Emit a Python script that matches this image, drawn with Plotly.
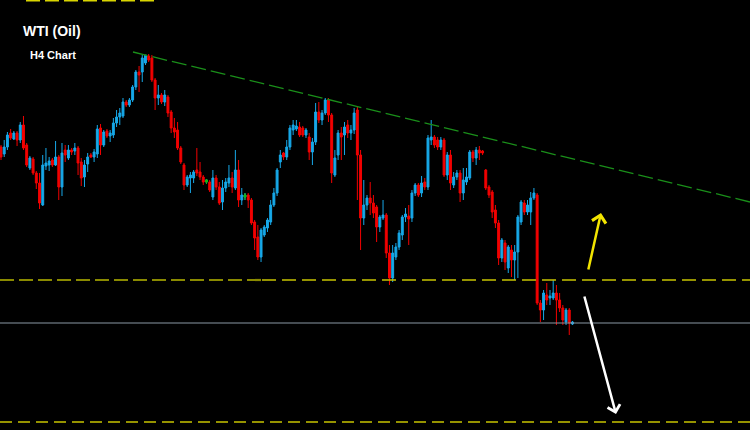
import plotly.graph_objects as go

# ---- data (price units) ----
opens = [283,276,283,297,291,297,290,305,285,262,271,257,247,225,264,265,270,265,273,243,
         280,272,280,279,282,268,253,266,275,273,276,302,285,299,294,295,307,313,314,328,
         325,330,343,358,358,367,374,372,350,332,335,328,333,318,302,300,282,265,245,252,
         252,260,258,253,248,248,233,252,243,228,242,247,252,242,260,230,233,235,230,208,
         193,173,195,202,208,225,237,268,277,273,283,300,301,303,302,295,293,278,288,318,
         310,317,330,315,255,275,297,295,305,297,300,320,275,212,225,232,227,223,203,212,
         215,177,152,173,183,195,213,214,212,237,245,237,248,243,290,293,290,283,290,255,
         275,245,253,257,237,248,252,278,272,280,279,260,243,238,220,207,172,187,162,180,
         170,178,208,227,218,218,232,235,127,120,135,132,132,137,130,122,108,120,106]
highs = [285,290,298,301,299,299,308,314,287,274,273,259,257,275,282,273,272,289,275,287,
         285,285,282,287,284,272,270,277,277,281,305,306,300,301,300,312,320,322,332,330,
         332,345,360,364,375,375,376,375,352,345,337,340,335,320,312,308,284,267,255,258,
         260,282,268,255,251,250,260,255,248,250,252,265,258,280,270,242,237,237,232,210,
         205,202,205,212,230,242,262,280,278,290,305,310,310,308,304,302,297,292,327,328,
         320,332,332,317,280,300,303,308,310,305,322,324,280,250,235,248,235,225,215,230,
         217,185,185,187,200,215,222,225,240,247,247,254,252,295,310,295,293,293,292,278,
         280,258,260,260,262,262,280,280,283,284,280,261,245,240,225,210,192,190,185,185,
         185,215,230,230,230,238,242,237,130,140,147,140,150,145,137,125,122,122,109]
lows = [270,273,280,290,290,284,287,280,263,260,255,241,221,224,260,259,263,264,230,234,
        268,270,275,275,255,244,243,258,272,268,272,275,283,292,288,292,303,305,312,323,
        323,328,340,338,348,365,368,348,320,325,326,324,313,297,292,280,266,240,243,237,
        247,254,250,245,246,238,230,240,225,220,238,243,237,240,223,225,230,222,205,180,
        170,168,193,198,205,223,234,262,270,270,280,295,299,293,293,292,270,265,285,307,
        305,315,308,247,253,270,270,275,292,290,296,230,180,205,220,215,212,188,198,210,
        172,145,148,170,180,190,208,185,208,234,233,233,240,240,285,282,280,280,253,250,
        240,242,250,228,230,245,250,268,265,270,275,240,232,212,202,165,168,160,157,153,
        150,152,205,215,215,205,230,125,108,110,125,125,130,105,118,105,105,95,105]
closes = [273,283,295,292,297,290,305,282,265,272,257,247,227,265,267,269,265,273,243,277,
          275,280,278,282,267,252,265,273,273,278,301,285,298,294,297,307,313,317,328,325,
          330,343,358,355,372,375,370,350,332,335,328,335,317,302,298,282,268,245,253,255,
          258,257,253,248,250,240,252,243,227,242,248,252,243,260,230,235,235,230,207,192,
          173,200,203,210,225,237,260,275,273,283,302,305,304,295,295,300,278,288,318,310,
          317,330,315,257,272,297,293,303,297,300,317,275,212,225,232,227,217,203,213,215,
          177,152,177,183,197,213,216,211,237,245,235,247,243,292,293,285,283,290,255,275,
          247,253,257,237,250,253,278,272,280,277,277,242,235,218,207,172,190,168,183,170,
          178,213,228,218,225,232,237,127,120,137,130,134,137,130,122,110,120,107,108]
candle_index = list(range(len(closes)))

# special (green) candles
green_idx = [64, 76]

# horizontal levels and trendline (price units)
upper_dash_level = 430
support_level = 150
current_price = 107
target_level = 8
trend_start, trend_end = 378, 228

BLUE = "#17a8e8"
RED = "#f20000"

fig = go.Figure()
fig.add_trace(go.Candlestick(
    x=candle_index, open=opens, high=highs, low=lows, close=closes,
    increasing=dict(line=dict(color=BLUE, width=1), fillcolor=BLUE),
    decreasing=dict(line=dict(color=RED, width=1), fillcolor=RED),
    whiskerwidth=0, showlegend=False, hoverinfo="skip"))
fig.add_trace(go.Candlestick(
    x=green_idx,
    open=[opens[i] for i in green_idx], high=[highs[i] for i in green_idx],
    low=[lows[i] for i in green_idx], close=[closes[i] for i in green_idx],
    increasing=dict(line=dict(color="#14b814", width=1), fillcolor="#14b814"),
    decreasing=dict(line=dict(color="#14b814", width=1), fillcolor="#14b814"),
    whiskerwidth=0, showlegend=False, hoverinfo="skip"))

shapes = [
    dict(type="line", xref="paper", yref="y", x0=26/750, x1=154/750, y0=upper_dash_level, y1=upper_dash_level,
         line=dict(color="#d8d400", width=3, dash="14px,5px")),
    dict(type="line", xref="paper", yref="y", x0=0, x1=262/750, y0=support_level, y1=support_level,
         line=dict(color="#8a8a00", width=2.2, dash="14px,5px")),
    dict(type="line", xref="paper", yref="y", x0=262/750, x1=1, y0=support_level, y1=support_level,
         line=dict(color="#c8c400", width=1.5, dash="14px,6px")),
    dict(type="line", xref="paper", yref="y", x0=0, x1=1, y0=current_price, y1=current_price,
         line=dict(color="#8a98a4", width=1)),
    dict(type="line", xref="paper", yref="y", x0=0, x1=1, y0=target_level, y1=target_level,
         line=dict(color="#c8c400", width=1.5, dash="12px,6px")),
    dict(type="line", xref="paper", yref="y", x0=133/750, x1=1, y0=trend_start, y1=trend_end,
         line=dict(color="#1a8f1a", width=1.3, dash="15px,5px")),
]

annotations = [
    dict(xref="paper", yref="paper", x=52/750, y=1-31/430, xanchor="center", yanchor="middle",
         text="<b>WTI (Oil)</b>", showarrow=False,
         font=dict(family="Arial, Liberation Sans", size=14, color="white")),
    dict(xref="paper", yref="paper", x=53/750, y=1-55/430, xanchor="center", yanchor="middle",
         text="<b>H4 Chart</b>", showarrow=False,
         font=dict(family="Arial, Liberation Sans", size=11, color="white")),
    dict(xref="paper", yref="y", x=601/750, y=217, text="", showarrow=True,
         ax=-13, ay=58, arrowhead=4, arrowsize=1.1, arrowwidth=2.5, arrowcolor="#f2e400", standoff=0),
    dict(xref="paper", yref="y", x=616/750, y=16, text="", showarrow=True,
         ax=-32, ay=-119, arrowhead=4, arrowsize=1, arrowwidth=2.5, arrowcolor="#ffffff", standoff=0),
]

fig.update_layout(
    width=750, height=430, margin=dict(l=0, r=0, t=0, b=0),
    paper_bgcolor="black", plot_bgcolor="black",
    boxgap=0.15,
    xaxis=dict(range=[-0.31, 233.3], visible=False, rangeslider=dict(visible=False), fixedrange=True),
    yaxis=dict(range=[0, 430], visible=False, fixedrange=True),
    shapes=shapes, annotations=annotations, showlegend=False,
)

fig.write_html("out.html", config={"displayModeBar": False},
               post_script="document.body.style.margin='0';document.body.style.background='black';")
